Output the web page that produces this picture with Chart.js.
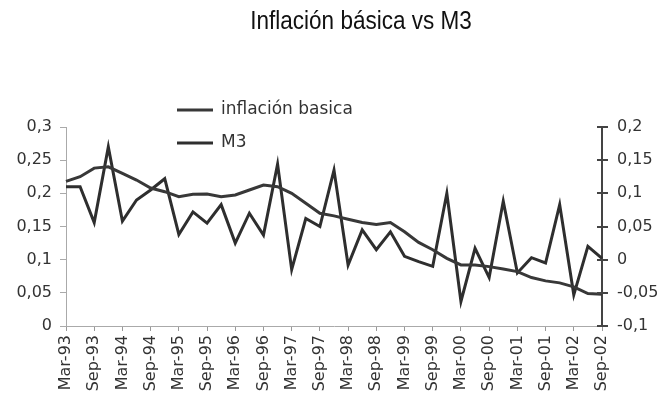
<!DOCTYPE html>
<html>
<head>
<meta charset="utf-8">
<script src="https://cdn.jsdelivr.net/npm/chart.js@4/dist/chart.umd.min.js"></script>
<style>
  html, body { margin: 0; padding: 0; background: #fff; }
  #wrap { width: 657px; height: 402px; }
</style>
</head>
<body>
<div id="wrap"><canvas id="chart" width="657" height="402"></canvas></div>
<script>
// quarterly observations, labels shown every 2nd quarter
const categories = [
  'Mar-93','Jun-93','Sep-93','Dec-93',
  'Mar-94','Jun-94','Sep-94','Dec-94',
  'Mar-95','Jun-95','Sep-95','Dec-95',
  'Mar-96','Jun-96','Sep-96','Dec-96',
  'Mar-97','Jun-97','Sep-97','Dec-97',
  'Mar-98','Jun-98','Sep-98','Dec-98',
  'Mar-99','Jun-99','Sep-99','Dec-99',
  'Mar-00','Jun-00','Sep-00','Dec-00',
  'Mar-01','Jun-01','Sep-01','Dec-01',
  'Mar-02','Jun-02','Sep-02'
];

// left axis
const inflacion = [
  0.218, 0.225, 0.238, 0.240, 0.230, 0.220, 0.208, 0.2025,
  0.195, 0.1985, 0.199, 0.195, 0.1975, 0.205, 0.2126, 0.210,
  0.200, 0.185, 0.170, 0.166, 0.161, 0.156, 0.153, 0.156,
  0.142, 0.126, 0.115, 0.102, 0.092, 0.092, 0.0895, 0.086,
  0.082, 0.073, 0.068, 0.065, 0.059, 0.049, 0.048
];

// right axis
const m3 = [
  0.11, 0.11, 0.056, 0.17, 0.058, 0.09, 0.105, 0.122,
  0.038, 0.072, 0.055, 0.083, 0.025, 0.07, 0.037, 0.144,
  -0.015, 0.062, 0.05, 0.135, -0.008, 0.045, 0.015, 0.042,
  0.005, -0.003, -0.01, 0.10, -0.063, 0.017, -0.027, 0.088,
  -0.02, 0.003, -0.005, 0.083, -0.053, 0.02, 0.002
];

const leftTicks = { min: 0, max: 0.3, step: 0.05 };
const rightTicks = { min: -0.1, max: 0.2, step: 0.05 };

const chartTitle = 'Inflación básica vs M3';
const fontFam = "'DejaVu Sans', sans-serif";

function fmt(v) {
  return String(Math.round(v * 100) / 100).replace('.', ',');
}

// title + legend drawn by hand so they sit where the original has them
const decor = {
  id: 'decor',
  afterDraw(chart) {
    const ctx = chart.ctx;
    ctx.save();
    // title, squeezed a little like the original
    ctx.save();
    ctx.translate(361, 29);
    ctx.scale(0.9, 1);
    ctx.fillStyle = '#111';
    ctx.font = "25px 'Liberation Sans', Arial, sans-serif";
    ctx.textAlign = 'center';
    ctx.textBaseline = 'alphabetic';
    ctx.fillText(chartTitle, 0, 0);
    ctx.restore();

    // inner half of the right axis tick marks (they cross the axis)
    const r = chart.scales.y1;
    ctx.strokeStyle = '#444';
    ctx.lineWidth = 2;
    r.ticks.forEach(t => {
      const y = Math.round(r.getPixelForValue(t.value));
      ctx.beginPath();
      ctx.moveTo(r.left - 5, y);
      ctx.lineTo(r.left, y);
      ctx.stroke();
    });

    const rows = [110, 143];
    chart.data.datasets.forEach((ds, i) => {
      const y = rows[i];
      ctx.strokeStyle = ds.borderColor;
      ctx.lineWidth = 3;
      ctx.beginPath();
      ctx.moveTo(177, y);
      ctx.lineTo(213, y);
      ctx.stroke();
      ctx.fillStyle = '#333';
      ctx.font = '17px ' + fontFam;
      ctx.textAlign = 'left';
      ctx.textBaseline = 'middle';
      ctx.fillText(ds.label, 221, y);
    });
    ctx.restore();
  }
};

new Chart(document.getElementById('chart'), {
  type: 'line',
  data: {
    labels: categories,
    datasets: [{
      label: 'inflación basica',
      data: inflacion,
      yAxisID: 'y',
      borderColor: '#383838',
      borderWidth: 3,
      pointRadius: 0,
      tension: 0
    }, {
      label: 'M3',
      data: m3,
      yAxisID: 'y1',
      borderColor: '#2e2e2e',
      borderWidth: 3,
      pointRadius: 0,
      tension: 0
    }]
  },
  options: {
    responsive: false,
    animation: false,
    layout: { padding: { top: 127, left: 0, right: 0, bottom: 0 } },
    plugins: {
      legend: { display: false },
      title: { display: false },
      tooltip: { enabled: false }
    },
    scales: {
      x: {
        offset: false,
        grid: { drawOnChartArea: false, drawTicks: true, tickLength: 5, color: '#999' },
        border: { color: '#aaa', width: 1 },
        ticks: {
          autoSkip: false,
          maxRotation: 90,
          minRotation: 90,
          padding: 4,
          color: '#333',
          font: { family: fontFam, size: 16 },
          callback: function (value, index) {
            return index % 2 === 0 ? this.getLabelForValue(value) : null;
          }
        },
        afterFit(scale) { scale.height = 76; }
      },
      y: {
        position: 'left',
        min: leftTicks.min,
        max: leftTicks.max,
        grid: { drawOnChartArea: false, drawTicks: true, tickLength: 6, color: '#aaa' },
        border: { color: '#aaa', width: 1 },
        ticks: {
          stepSize: leftTicks.step,
          padding: 8,
          color: '#333',
          font: { family: fontFam, size: 16 },
          callback: (v) => fmt(v)
        },
        afterFit(scale) { scale.width = 66; }
      },
      y1: {
        position: 'right',
        min: rightTicks.min,
        max: rightTicks.max,
        grid: { drawOnChartArea: false, drawTicks: true, tickLength: 6, color: '#444', lineWidth: 2 },
        border: { color: '#444', width: 2 },
        ticks: {
          stepSize: rightTicks.step,
          padding: 9,
          color: '#333',
          font: { family: fontFam, size: 16 },
          callback: (v) => fmt(v)
        },
        afterFit(scale) { scale.width = 55; }
      }
    }
  },
  plugins: [decor]
});
</script>
</body>
</html>
